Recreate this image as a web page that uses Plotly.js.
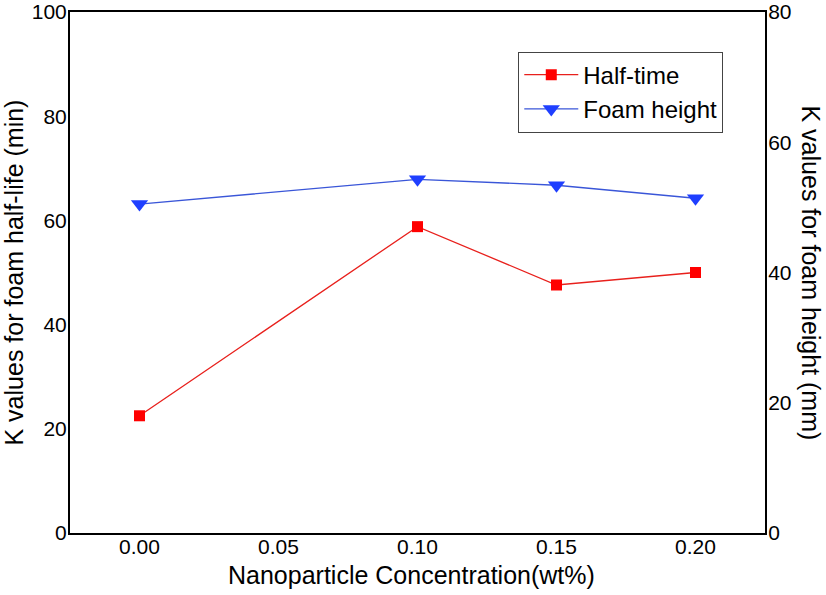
<!DOCTYPE html>
<html><head><meta charset="utf-8">
<script src="https://cdn.plot.ly/plotly-3.0.1.min.js"></script>
<style>html,body{margin:0;padding:0;background:#fff}</style>
</head><body>
<div id="chart" style="width:826px;height:595px"></div>
<script>
const concentration = [0.00, 0.10, 0.15, 0.20];
const halfTimeK = [22.5, 58.8, 47.6, 50.0];
const foamHeightK = [50.5, 54.3, 53.4, 51.4];
const xTicks = [0, 0.05, 0.10, 0.15, 0.20];
const xTickText = ['0.00', '0.05', '0.10', '0.15', '0.20'];
const leftTicks = [0, 20, 40, 60, 80, 100];
const rightTicks = [0, 20, 40, 60, 80];

const font = 'Liberation Sans, Arial, sans-serif';
const traces = [
  {x: concentration, y: halfTimeK, name: 'Half-time', type: 'scatter', mode: 'lines+markers',
   line: {color: '#e8201c', width: 1.3}, marker: {symbol: 'square', size: 11, color: '#ff0000'}, yaxis: 'y'},
  {x: concentration, y: foamHeightK, name: 'Foam height', type: 'scatter', mode: 'lines+markers',
   line: {color: '#3a56d8', width: 1.3}, marker: {symbol: 'triangle-down', size: 15, color: '#1f3fff'}, yaxis: 'y2'}
];
const layout = {
  width: 826, height: 595,
  margin: {l: 70, r: 61, t: 12, b: 62},
  paper_bgcolor: '#fff', plot_bgcolor: '#fff',
  font: {family: font, size: 21, color: '#000'},
  showlegend: true,
  legend: {x: 0.645, y: 0.924, xanchor: 'left', yanchor: 'top', bgcolor: '#fff',
           bordercolor: '#444', borderwidth: 1, font: {size: 24, family: font}, itemwidth: 54,
           tracegroupgap: 0},
  xaxis: {range: [-0.025, 0.225], tickvals: xTicks, ticktext: xTickText, ticks: '',
          showgrid: false, zeroline: false, showline: true, linecolor: '#000', linewidth: 2,
          mirror: true, tickfont: {size: 21}, ticklabelstandoff: -6},
  yaxis: {range: [0, 100], tickvals: leftTicks, ticks: '', showgrid: false,
          zeroline: false, showline: true, linecolor: '#000', linewidth: 2, tickfont: {size: 21},
          ticklabelstandoff: -3},
  yaxis2: {range: [0, 80], tickvals: rightTicks, ticks: '', showgrid: false, zeroline: false,
           overlaying: 'y', side: 'right', showline: true, linecolor: '#000', linewidth: 2,
           ticklabelstandoff: -3, tickfont: {size: 21}},
  annotations: [
    {text: 'Nanoparticle Concentration(wt%)', xref: 'paper', yref: 'paper', x: 0.492, y: 0,
     yshift: -42, xanchor: 'center', yanchor: 'middle', showarrow: false, font: {size: 25, family: font}},
    {text: 'K values for foam half-life (min)', xref: 'paper', yref: 'paper', x: 0, xshift: -57,
     y: 0.5, xanchor: 'center', yanchor: 'middle', textangle: -90, showarrow: false,
     font: {size: 25, family: font}},
    {text: 'K values for foam height (mm)', xref: 'paper', yref: 'paper', x: 1.0, xshift: 46,
     y: 0.5, xanchor: 'center', yanchor: 'middle', textangle: 90, showarrow: false,
     font: {size: 25, family: font}}
  ]
};
Plotly.newPlot('chart', traces, layout, {displayModeBar: false});
</script>
</body></html>
